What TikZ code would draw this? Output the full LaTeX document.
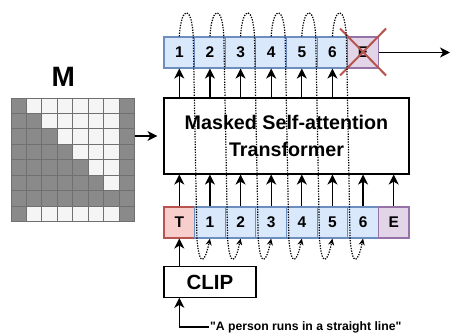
\documentclass[tikz,border=0pt]{standalone}
\usepackage{fontspec}
\setmainfont{Liberation Sans}[Ligatures=TeXOff]
\usetikzlibrary{arrows.meta}
\definecolor{bluef}{HTML}{DAE8FC}
\definecolor{bluel}{HTML}{6C8EBF}
\definecolor{redf}{HTML}{F8CECC}
\definecolor{redl}{HTML}{B85450}
\definecolor{purf}{HTML}{E1D5E7}
\definecolor{purl}{HTML}{9673A6}
\definecolor{darkc}{HTML}{8A8A8A}
\definecolor{lightc}{HTML}{F5F5F5}
\definecolor{gridc}{HTML}{707070}
\tikzset{
  tok/.style={draw, line width=1.2pt, minimum width=30.6pt, minimum height=31pt, inner sep=0pt,
    font=\bfseries\fontsize{15.5}{15.5}\selectfont},
  btok/.style={tok, fill=bluef, draw=bluel},
  arr/.style={line width=1.2pt, -{Stealth[length=10pt,width=10pt,inset=3pt]}},
  dotarr/.style={line width=1.2pt, dash pattern=on 1.3pt off 1.3pt, -{Stealth[length=6.5pt,width=6pt,inset=2pt]}},
  boxnode/.style={draw, line width=1.2pt, inner sep=0pt, align=center},
  cellc/.style={draw=gridc, line width=0.9pt}
}
\begin{document}
\begin{tikzpicture}[x=1pt,y=-1pt]
\fill[white] (0,0) rectangle (451,335);
\useasboundingbox (0,0) rectangle (451,335);

% matrix M
\foreach \r/\row in {0/{0,1,1,1,1,1,1,0},1/{0,0,1,1,1,1,1,0},2/{0,0,0,1,1,1,1,0},3/{0,0,0,0,1,1,1,0},4/{0,0,0,0,0,1,1,0},5/{0,0,0,0,0,0,1,0},6/{0,0,0,0,0,0,0,0},7/{0,1,1,1,1,1,1,0}}{
  \foreach \v [count=\c from 0] in \row {
    \ifnum\v=1
      \draw[cellc, fill=lightc] (11+15.45*\c, 98+15.45*\r) rectangle +(15.45,15.45);
    \else
      \draw[cellc, fill=darkc] (11+15.45*\c, 98+15.45*\r) rectangle +(15.45,15.45);
    \fi
  }
}
\node[minimum width=123.6pt, minimum height=123.6pt, inner sep=0pt] (mat) at (72.8,159.8) {};
\node[font=\bfseries\fontsize{28}{28}\selectfont, inner sep=0pt] (mlabel) at (63.3,77) {M};

% transformer
\node[boxnode, minimum width=245pt, minimum height=76pt,
  font=\bfseries\fontsize{19.7}{27}\selectfont] (tr) at (286.5,136) {Masked Self-attention\\Transformer};

% top tokens
\foreach \k in {1,...,6} {
  \node[btok] (t\k) at ({164+30.625*(\k-0.5)},52.5) {\k};
}
\node[tok, fill=purf, draw=purl] (tE) at ({164+30.625*6.5},52.5) {E};

% bottom tokens
\node[tok, fill=redf, draw=redl] (bT) at ({164+30.625*0.5},222.5) {T};
\foreach \k in {1,...,6} {
  \node[btok] (b\k) at ({164+30.625*(\k+0.5)},222.5) {\k};
}
\node[tok, fill=purf, draw=purl] (bE) at ({164+30.625*7.5},222.5) {E};

% CLIP and sentence
\node[boxnode, minimum width=92pt, minimum height=30.5pt,
  font=\bfseries\fontsize{20.5}{20.5}\selectfont] (clip) at (210,282) {CLIP};
\node[anchor=west, inner sep=1pt, font=\bfseries\fontsize{12.2}{14}\selectfont] (quote) at (209,327) {"A person runs in a straight line"};

% arrows
\draw[arr] (mat.east |- tr.west) -- ([xshift=-6pt]tr.west);
\foreach \k in {1,...,6} {
  \draw[arr] (tr.north -| t\k.south) -- (t\k.south);
  \draw[arr] (b\k.north) -- (b\k.north |- tr.south);
}
\draw[arr] (bT.north) -- (bT.north |- tr.south);
\draw[arr] (bE.north) -- (bE.north |- tr.south);
\coordinate (outend) at (450,52.5);
\draw[arr] (tE.east) -- (outend);
\draw[arr] (clip.north -| bT.south) -- (bT.south);
\draw[arr] (quote.west) -| (clip.south -| bT.south);

% red cross
\draw[redl, line width=2pt] ([xshift=-23pt,yshift=24pt]tE.center) -- ([xshift=23pt,yshift=-23pt]tE.center);
\draw[redl, line width=2pt] ([xshift=-23pt,yshift=-23pt]tE.center) -- ([xshift=23pt,yshift=24pt]tE.center);

% dotted feedback curves
\foreach \k in {1,...,6} {
  \draw[dotarr] (t\k.north) .. controls +(2,-32) and +(-1,-35) .. ([xshift=14pt,yshift=-3pt]t\k.north)
    -- ([xshift=-13pt]b\k.south) .. controls +(2.5,30) and +(-5,24) .. (b\k.south);
}
\end{tikzpicture}
\end{document}
